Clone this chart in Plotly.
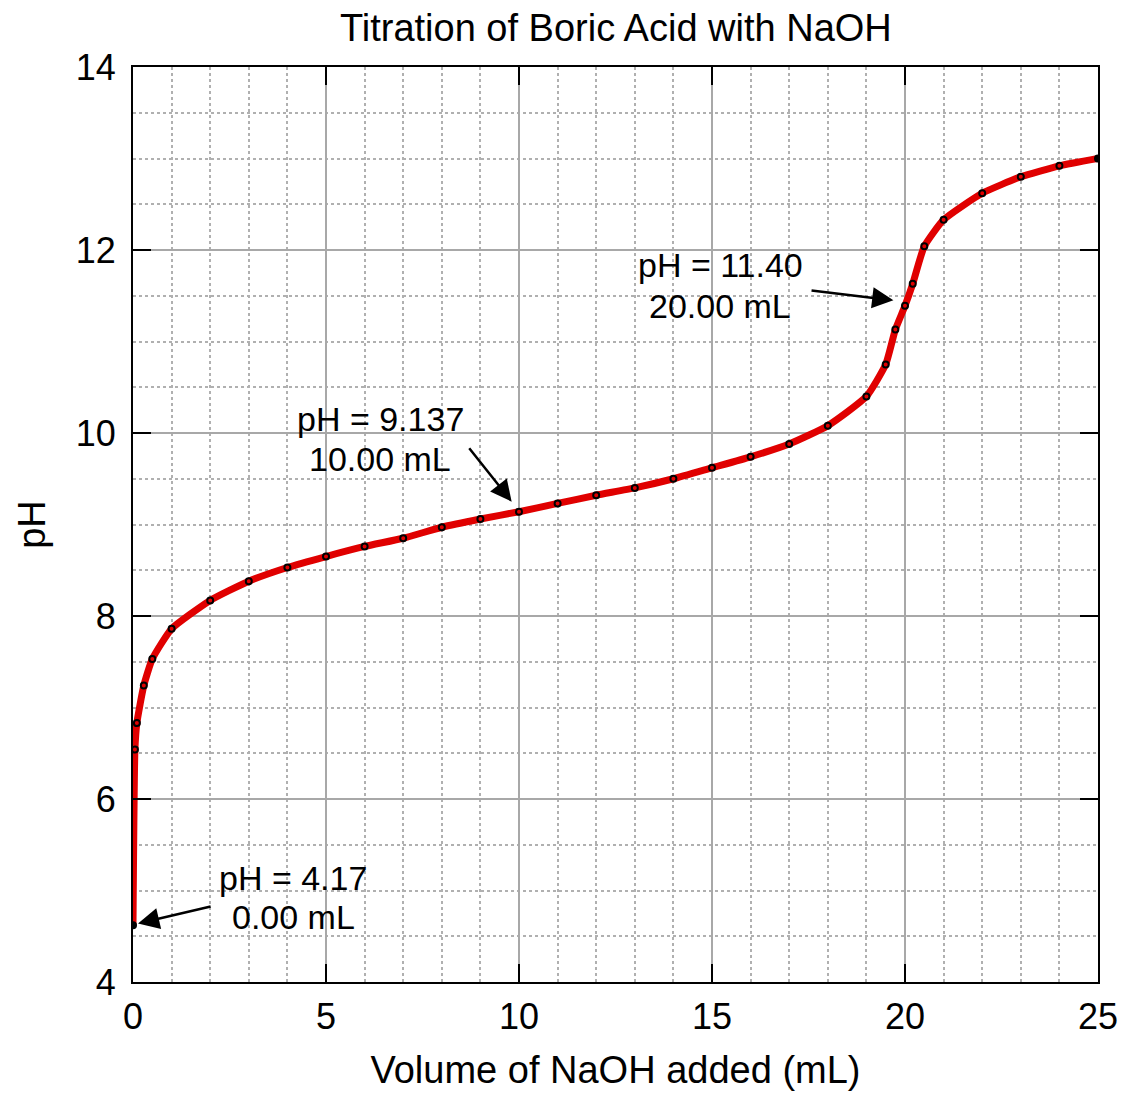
import plotly.graph_objects as go

volume_ml = [0, 0.05, 0.1, 0.28, 0.5, 1, 2, 3, 4, 5, 6, 7, 8, 9, 10, 11, 12, 13, 14, 15,
             16, 17, 18, 19, 19.5, 19.75, 20, 20.2, 20.5, 21, 22, 23, 24, 25]
ph_values = [4.62, 6.54, 6.83, 7.24, 7.53, 7.86, 8.17, 8.38, 8.53, 8.65, 8.76, 8.85, 8.97, 9.06,
             9.14, 9.23, 9.32, 9.40, 9.50, 9.62, 9.74, 9.88, 10.08, 10.40, 10.75, 11.13, 11.39,
             11.63, 12.04, 12.33, 12.62, 12.80, 12.92, 13.00]

title_text = "Titration of Boric Acid with NaOH"
x_title = "Volume of NaOH added (mL)"
y_title = "pH"

# label lines: text, x, y
label_lines = [
    ("pH = 4.17", 4.15, 5.142),
    ("0.00 mL", 4.15, 4.705),
    ("pH = 9.137", 6.40, 10.156),
    ("10.00 mL", 6.40, 9.719),
    ("pH = 11.40", 15.21, 11.831),
    ("20.00 mL", 15.21, 11.393),
]
# arrows: tail_x, tail_y, head_x, head_y
arrows = [
    (2.05, 4.83, 0.13, 4.64),
    (8.68, 9.85, 9.81, 9.25),
    (17.54, 11.56, 19.70, 11.45),
]

FONT = "Liberation Sans, Arial, sans-serif"

symbols = ["circle-open"] * len(volume_ml)
symbols[0] = "circle"
symbols[-1] = "circle"

fig = go.Figure()
fig.add_trace(go.Scatter(
    x=volume_ml, y=ph_values, mode="lines",
    line=dict(color="#e00000", width=7, shape="spline", smoothing=0.5),
    hoverinfo="skip", showlegend=False))
fig.add_trace(go.Scatter(
    x=volume_ml, y=ph_values, mode="markers",
    marker=dict(symbol=symbols, size=6, color="black", line=dict(width=2, color="black")),
    showlegend=False))

annotations = []
for text, tx, ty in label_lines:
    annotations.append(dict(x=tx, y=ty, xref="x", yref="y", text=text, showarrow=False,
                            font=dict(family=FONT, size=34, color="black"), align="center",
                            borderpad=0))
for ax_, ay_, hx, hy in arrows:
    annotations.append(dict(x=hx, y=hy, ax=ax_, ay=ay_, xref="x", yref="y", axref="x", ayref="y",
                            text="", showarrow=True, arrowhead=2, arrowsize=1.7, arrowwidth=2.5,
                            arrowcolor="black"))

axis_common = dict(
    showline=True, linecolor="black", linewidth=2, mirror="ticks",
    ticks="inside", ticklen=18, tickwidth=2, tickcolor="black",
    showgrid=True, gridcolor="#a8a8a8", gridwidth=2,
    zeroline=False,
    tickfont=dict(family=FONT, size=36, color="black"),
)

fig.update_layout(
    width=1121, height=1093,
    margin=dict(l=133, r=23, t=67, b=111, autoexpand=False),
    paper_bgcolor="white", plot_bgcolor="white",
    title=dict(text=title_text, x=0.5494, xanchor="center", y=0.975, yanchor="middle",
               font=dict(family=FONT, size=38, color="black")),
    xaxis=dict(range=[0, 25], dtick=5, tick0=0, ticklabelstandoff=2,
               title=dict(text=x_title, font=dict(family=FONT, size=38, color="black"), standoff=20),
               minor=dict(dtick=1, showgrid=True, gridcolor="#b0b0b0", griddash="dot", gridwidth=2,
                          ticks=""),
               **axis_common),
    yaxis=dict(range=[4, 14], dtick=2, tick0=4, ticklabelstandoff=8,
               title=dict(text=y_title, font=dict(family=FONT, size=38, color="black"), standoff=18),
               minor=dict(dtick=0.5, showgrid=True, gridcolor="#b0b0b0", griddash="dot", gridwidth=2,
                          ticks=""),
               **axis_common),
    annotations=annotations,
)

fig.write_html("out.html")
